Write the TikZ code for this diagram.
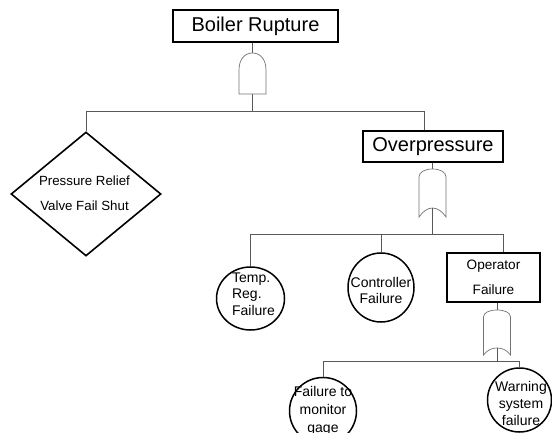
\documentclass[tikz,border=0pt]{standalone}
\usepackage{fontspec}
\setmainfont{Liberation Sans}
\usetikzlibrary{shapes.geometric}

\tikzset{
  wire/.style={draw=black!65, line width=0.9pt},
  gateline/.style={draw=black!55, line width=0.7pt, fill=white},
  eventbox/.style={draw=black, line width=1.6pt, rectangle, inner sep=0pt, fill=white},
  basic/.style={draw=black, line width=1.5pt, ellipse, inner sep=0pt, fill=white},
  undev/.style={draw=black, line width=1.6pt, diamond, inner sep=0pt, fill=white},
  bigtxt/.style={font=\fontsize{20}{24}\selectfont},
}

\begin{document}
\begin{tikzpicture}[x=1pt, y=-1pt]
  \useasboundingbox (0,0) rectangle (552,433);

  % ---- events ----
  \node[eventbox, bigtxt, minimum width=165pt, minimum height=32pt] (br) at (255.5,26) {Boiler Rupture};
  \node[eventbox, bigtxt, minimum width=140pt, minimum height=31pt] (op) at (433,146.5) {Overpressure};
  \node[eventbox, minimum width=93pt, minimum height=49pt, align=center,
        font=\fontsize{13.6}{25}\selectfont] (opf) at (493.5,277.5) {Operator\\Failure};

  \node[undev, minimum width=150pt, minimum height=124pt] (pr) at (86,194) {};
  \node[align=center, font=\fontsize{13.3}{25}\selectfont] (prT) at (84.5,193.5) {Pressure Relief\\Valve Fail Shut};

  \node[basic, minimum width=68pt, minimum height=63pt] (temp) at (250.5,298.5) {};
  \node[align=left, font=\fontsize{14}{16.5}\selectfont, inner sep=0pt] (tempT) at (253.5,294) {Temp.\\Reg.\\Failure};

  \node[basic, minimum width=66pt, minimum height=69pt] (ctrl) at (381,287.5) {};
  \node[align=center, font=\fontsize{14}{16}\selectfont, inner sep=0pt] (ctrlT) at (381,290) {Controller\\Failure};

  \node[basic, minimum width=67pt, minimum height=67pt] (fail) at (323,411) {};
  \node[align=center, font=\fontsize{14}{18}\selectfont, inner sep=0pt] (failT) at (323,411) {Failure to\\monitor\\gage};

  \node[basic, minimum width=64pt, minimum height=64pt] (warn) at (519.5,400) {};
  \node[align=center, font=\fontsize{14}{17}\selectfont, inner sep=0pt] (warnT) at (521,403) {Warning\\system\\failure};

  % ---- gate terminals ----
  \coordinate (g1top) at (252.5,53);
  \coordinate (g1bot) at (252.5,94);
  \coordinate (g2top) at (432.5,169);
  \coordinate (g2bot) at (432.5,208);
  \coordinate (g3top) at (497,310);
  \coordinate (g3bot) at (497,348);

  % ---- junctions ----
  \coordinate (j1) at (252.5,111);
  \coordinate (t1) at (424,111);
  \coordinate (j2) at (432.5,234);
  \coordinate (t2) at (503,234);
  \coordinate (j3) at (497,361);
  \coordinate (t3) at (519,361);

  % ---- connectors ----
  \draw[wire] (br.south -| g1top) -- (g1top);
  \draw[wire] (g1bot) -- (j1);
  \draw[wire] (pr.north) |- (t1) -- (t1 |- op.north);

  \draw[wire] (op.south -| g2top) -- (g2top);
  \draw[wire] (g2bot) -- (j2);
  \draw[wire] (temp.north) |- (t2) -- (t2 |- opf.north);
  \draw[wire] (ctrl.north) -- (ctrl.north |- j2);

  \draw[wire] (opf.south -| g3top) -- (g3top);
  \draw[wire] (g3bot) -- (j3);
  \draw[wire] (fail.north) |- (t3) -- (t3 |- warn.north);

  % ---- AND gate ----
  \draw[gateline] (239,94) -- (239,70)
      .. controls (239,59) and (245,53) .. (252.5,53)
      .. controls (260,53) and (266,59) .. (266,70)
      -- (266,94) -- cycle;

  % ---- OR gates ----
  \draw[gateline] (419,217) -- (419,177)
      .. controls (419,172) and (425,169) .. (432.5,169)
      .. controls (440,169) and (446,172) .. (446,177)
      -- (446,217)
      .. controls (442,211) and (437,208) .. (432.5,208)
      .. controls (428,208) and (423,211) .. (419,217) -- cycle;
  \draw[wire] (g2bot) -- (j2);

  \draw[gateline] (483.5,355) -- (483.5,317)
      .. controls (483.5,312.5) and (489.5,310) .. (497,310)
      .. controls (504.5,310) and (510.5,312.5) .. (510.5,317)
      -- (510.5,355)
      .. controls (506.5,349.5) and (501.5,348) .. (497,348)
      .. controls (492.5,348) and (487.5,349.5) .. (483.5,355) -- cycle;
  \draw[wire] (g3bot) -- (j3);
\end{tikzpicture}
\end{document}
